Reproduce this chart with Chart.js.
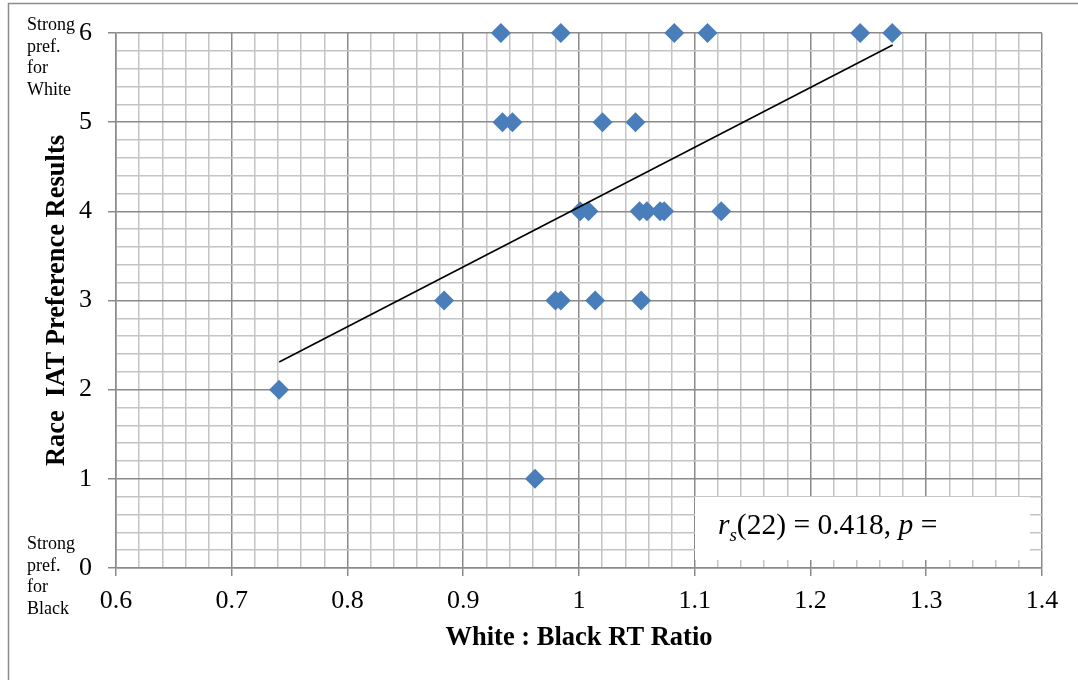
<!DOCTYPE html>
<html>
<head>
<meta charset="utf-8">
<script src="https://cdn.jsdelivr.net/npm/chart.js@4/dist/chart.umd.min.js"></script>
<style>
  body { margin: 0; background: #fff; }
  #wrap { width: 1078px; height: 680px; }
</style>
</head>
<body>
<div id="wrap"><canvas id="iatChart" width="1078" height="680"></canvas></div>
<script>
// values
const ratioValues = [0.9325, 0.9843, 1.0823, 1.111, 1.2429, 1.2706,
                     0.9339, 0.9425, 1.0203, 1.0488,
                     1.001, 1.0082, 1.0523, 1.0587, 1.0701, 1.0736, 1.1229,
                     0.8835, 0.9796, 0.9843, 1.014, 1.0537,
                     0.7409, 0.962];
const prefValues = [6, 6, 6, 6, 6, 6,
                    5, 5, 5, 5,
                    4, 4, 4, 4, 4, 4, 4,
                    3, 3, 3, 3, 3,
                    2, 1];
const trendX = [0.741, 1.271];
const trendY = [2.31, 5.865];
const topNote = ["Strong", "pref.", "for", "White"];
const bottomNote = ["Strong", "pref.", "for", "Black"];
const statText = ["r", "s", "(22) = 0.418, ", "p", " ="];

const MAJOR = '#8a8a8a';
const MINOR = '#c4c4c4';
const SERIF = "'Liberation Serif', 'Times New Roman', serif";

function isWhole(v, step) {
  const q = v / step;
  return Math.abs(q - Math.round(q)) < 1e-6;
}

// frame, side notes and the stats box
const extras = {
  id: 'extras',
  beforeDraw(chart) {
    const ctx = chart.ctx;
    ctx.save();
    ctx.strokeStyle = '#8c8c8c';
    ctx.lineWidth = 1.5;
    ctx.beginPath();
    ctx.moveTo(8.5, 680);
    ctx.lineTo(8.5, 3.5);
    ctx.lineTo(1078, 3.5);
    ctx.stroke();
    ctx.restore();
  },
  afterDatasetsDraw(chart) {
    const ctx = chart.ctx;
    ctx.save();
    ctx.fillStyle = '#000';
    ctx.font = '18px ' + SERIF;
    ctx.textAlign = 'left';
    ctx.textBaseline = 'alphabetic';
    topNote.forEach((t, i) => ctx.fillText(t, 27, 30 + i * 21.6));
    bottomNote.forEach((t, i) => ctx.fillText(t, 27, 549 + i * 21.6));

    // white box with the correlation text
    ctx.fillStyle = '#fff';
    ctx.fillRect(695, 497, 335, 63);
    ctx.fillStyle = '#000';
    let x = 718;
    const base = 534;
    ctx.font = 'italic 29.5px ' + SERIF;
    ctx.fillText(statText[0], x, base);
    x += ctx.measureText(statText[0]).width;
    ctx.font = 'italic 19px ' + SERIF;
    ctx.fillText(statText[1], x, base + 7);
    x += ctx.measureText(statText[1]).width;
    ctx.font = '29.5px ' + SERIF;
    ctx.fillText(statText[2], x, base);
    x += ctx.measureText(statText[2]).width;
    ctx.font = 'italic 29.5px ' + SERIF;
    ctx.fillText(statText[3], x, base);
    x += ctx.measureText(statText[3]).width;
    ctx.font = '29.5px ' + SERIF;
    ctx.fillText(statText[4], x, base);
    ctx.restore();
  }
};

const ctx = document.getElementById('iatChart').getContext('2d');
const iatChart = new Chart(ctx, {
  type: 'scatter',
  data: {
    datasets: [
      {
        label: 'Trend',
        type: 'line',
        data: trendX.map((x, i) => ({ x: x, y: trendY[i] })),
        borderColor: '#000',
        borderWidth: 1.6,
        pointRadius: 0,
        fill: false,
        order: 0
      },
      {
        label: 'Participants',
        data: ratioValues.map((x, i) => ({ x: x, y: prefValues[i] })),
        pointStyle: 'rectRot',
        pointRadius: 10,
        pointHoverRadius: 10,
        backgroundColor: '#4a7ebb',
        borderColor: '#4a7ebb',
        borderWidth: 0,
        clip: false,
        order: 1
      }
    ]
  },
  options: {
    responsive: false,
    animation: false,
    events: [],
    layout: { padding: { left: 0, right: 36, top: 33, bottom: 0 } },
    plugins: {
      legend: { display: false },
      tooltip: { enabled: false }
    },
    scales: {
      x: {
        type: 'linear',
        min: 0.6,
        max: 1.4,
        afterFit: s => { s.height = 112; },
        ticks: {
          stepSize: 0.02,
          autoSkip: false,
          maxRotation: 0,
          padding: 10,
          color: '#000',
          font: { family: SERIF, size: 26 },
          callback: v => isWhole(v, 0.1) ? String(parseFloat(v.toFixed(1))) : ''
        },
        grid: {
          lineWidth: 1.5,
          tickLength: 8,
          color: c => isWhole(c.tick.value, 0.1) ? MAJOR : MINOR,
          tickColor: c => isWhole(c.tick.value, 0.1) ? MAJOR : 'rgba(0,0,0,0)'
        },
        border: { color: MAJOR, width: 1.5 },
        title: {
          display: true,
          text: 'White : Black RT Ratio',
          color: '#000',
          font: { family: SERIF, size: 26.5, weight: 'bold' },
          padding: { top: 0, bottom: 26 }
        }
      },
      y: {
        type: 'linear',
        min: 0,
        max: 6,
        afterFit: s => { s.width = 116; },
        ticks: {
          stepSize: 0.2,
          autoSkip: false,
          padding: 16,
          color: '#000',
          font: { family: SERIF, size: 26 },
          callback: v => isWhole(v, 1) ? String(Math.round(v)) : ''
        },
        grid: {
          lineWidth: 1.5,
          tickLength: 8,
          color: c => isWhole(c.tick.value, 1) ? MAJOR : MINOR,
          tickColor: c => isWhole(c.tick.value, 1) ? MAJOR : 'rgba(0,0,0,0)'
        },
        border: { color: MAJOR, width: 1.5 },
        title: {
          display: true,
          text: 'Race  IAT Preference Results',
          color: '#000',
          font: { family: SERIF, size: 26.5, weight: 'bold' },
          padding: { top: 41, bottom: 0 }
        }
      }
    }
  },
  plugins: [extras]
});
</script>
</body>
</html>
